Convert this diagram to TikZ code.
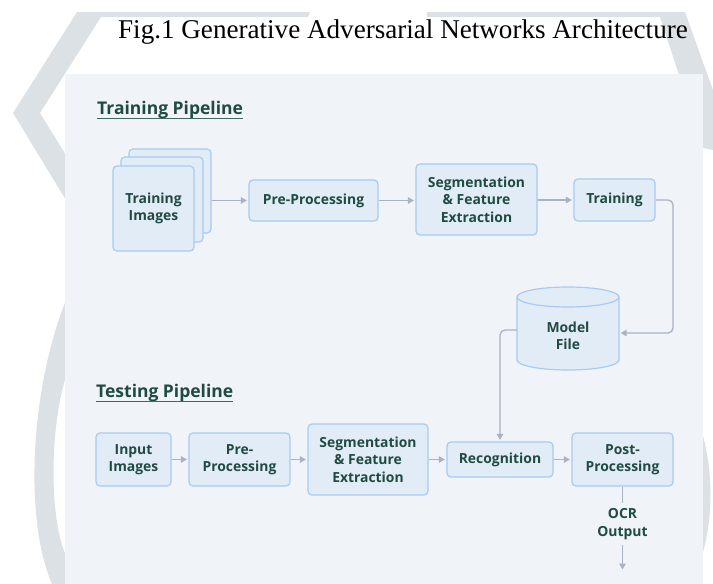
\documentclass[tikz,border=0pt]{standalone}
\usepackage{fontspec}
\setmainfont{Open Sans}
\newfontfamily\titlefont{Liberation Serif}
\usetikzlibrary{arrows.meta,calc}
\definecolor{wm}{HTML}{DCE1E5}
\definecolor{panel}{HTML}{F0F3F8}
\definecolor{bfill}{HTML}{E2ECF7}
\definecolor{bdraw}{HTML}{A7CBF1}
\definecolor{txt}{HTML}{1F4B42}
\definecolor{arc}{HTML}{A9B3C1}
\tikzset{
  box/.style={draw=bdraw, fill=bfill, line width=1.2pt, rounded corners=4pt, align=center,
    font=\bfseries\fontsize{13.9}{17.5}\selectfont, text=txt, inner sep=0pt},
  arr/.style={draw=arc, line width=1.3pt, -{Triangle[length=6pt,width=6.5pt]}, shorten >=1.5pt},
  plain/.style={draw=arc, line width=1.3pt},
  head/.style={font=\bfseries\fontsize{17.5}{20}\selectfont, text=txt, inner sep=0pt, anchor=base west},
  headline/.style={draw=txt!85, line width=1.6pt},
}
\begin{document}
\begin{tikzpicture}[x=1pt,y=-1pt]
\useasboundingbox (0,0) rectangle (713,584);
% watermark
\fill[wm] (77,12) -- (310,12) -- (308,17) -- (101,17) -- (40,113) -- (72,165) -- (72,210) -- (13,113) -- cycle;
\fill[wm] (427,12) -- (685,12) -- (713,90) -- (713,150) -- (703,148) -- (660,17) -- (427,17) -- cycle;
\fill[wm] (66,300) .. controls (30,390) and (24,520) .. (52,584) -- (70,584) -- (70,563) .. controls (48,530) and (48,420) .. (70,365) -- cycle;
\fill[wm] (700,425) .. controls (714,470) and (714,520) .. (700,562) -- cycle;
% title
\node[font=\titlefont\fontsize{27.1}{30}\selectfont, anchor=base, inner sep=0pt] (title) at (403,38) {Fig.1 Generative Adversarial Networks Architecture};
% panel
\fill[panel] (65,74) rectangle (703,584);
% headings
\node[head] (th) at (97,114) {Training Pipeline};
\draw[headline] ([yshift=-4.5pt]th.base west) -- ([yshift=-4.5pt]th.base east);
\node[head] (tp) at (96,397) {Testing Pipeline};
\draw[headline] ([yshift=-4.5pt]tp.base west) -- ([yshift=-4.5pt]tp.base east);
% training pipeline
\node[box, minimum width=82pt, minimum height=84pt] (imgback) at (170,191) {};
\node[box, minimum width=82pt, minimum height=85pt] (imgmid) at (162,199.5) {};
\node[box, minimum width=81pt, minimum height=85pt] (img) at (153.5,208.5) {Training\\Images};
\node[box, minimum width=129pt, minimum height=41pt] (pre) at (313.5,200.5) {Pre-Processing};
\node[box, minimum width=121pt, minimum height=71pt] (seg) at (476.5,199.5) {Segmentation\\\& Feature\\Extraction};
\node[box, minimum width=81pt, minimum height=42pt] (train) at (614.5,200) {Training};
% model file cylinder
\draw[draw=bdraw, fill=bfill, line width=1.2pt] (517,297) -- (517,360) arc[start angle=180, end angle=0, x radius=51, y radius=10] -- (619,297) arc[start angle=0, end angle=-180, x radius=51, y radius=10] -- cycle;
\draw[draw=bdraw, line width=1.2pt] (517,297) arc[start angle=180, end angle=0, x radius=51, y radius=10];
\node[align=center, font=\bfseries\fontsize{13.9}{17.5}\selectfont, text=txt, minimum width=102pt, minimum height=60pt, inner sep=0pt] (model) at (568,336) {Model\\File};
\coordinate (turn) at (673,333);
% testing pipeline
\node[box, minimum width=75pt, minimum height=53pt] (inp) at (133.5,459.5) {Input\\Images};
\node[box, minimum width=101pt, minimum height=53pt] (pre2) at (239.5,459.5) {Pre-\\Processing};
\node[box, minimum width=120pt, minimum height=71pt] (seg2) at (368,459.5) {Segmentation\\\& Feature\\Extraction};
\node[box, minimum width=106pt, minimum height=35pt] (rec) at (500,459.5) {Recognition};
\node[box, minimum width=101pt, minimum height=53pt] (post) at (622.5,459.5) {Post-\\Processing};
\node[align=center, font=\bfseries\fontsize{13.9}{17.5}\selectfont, text=txt, inner xsep=0pt, inner ysep=5pt] (ocr) at (622.5,524) {OCR\\Output};
\coordinate (out) at (622.5,571);
% connectors
\draw[arr] (imgback.east |- pre.west) -- (pre.west);
\draw[arr] (pre.east) -- (pre.east -| seg.west);
\draw[arr] (seg.east |- train.west) -- (train.west);
\draw[arr, rounded corners=5pt] (train.east) -| (turn) -- (turn -| model.east);
\draw[arr, rounded corners=5pt] ([yshift=3pt]model.west |- turn) -| (rec.north);
\draw[arr] (inp.east) -- (pre2.west);
\draw[arr] (pre2.east) -- (pre2.east -| seg2.west);
\draw[arr] (seg2.east |- rec.west) -- (rec.west);
\draw[arr] (rec.east) -- (rec.east -| post.west);
\draw[plain] (post.south) -- (ocr.north);
\draw[arr] (ocr.south) -- (out);
\end{tikzpicture}
\end{document}
